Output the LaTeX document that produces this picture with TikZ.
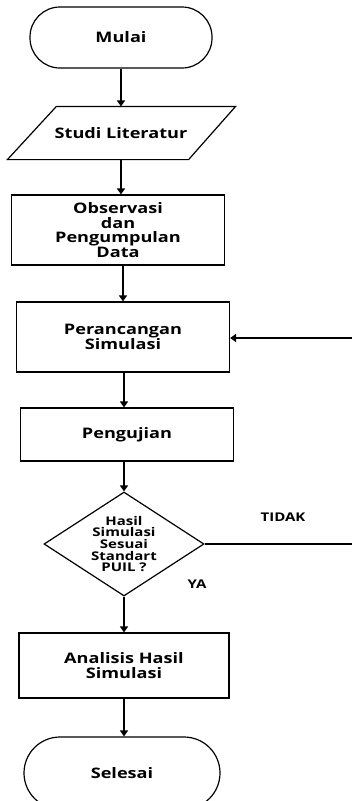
\documentclass[tikz,border=0pt]{standalone}
\usepackage{fontspec}
\setmainfont{Open Sans}[FakeStretch=1.25]
\usetikzlibrary{shapes.geometric,arrows.meta}

\begin{document}
\begin{tikzpicture}[x=1pt,y=-1pt,
  kotak/.style={draw,line width=1.2pt,align=center,font=\fontsize{14.5}{14.5}\selectfont\bfseries},
  ujung/.style={kotak,rounded corners=30pt},
  panah/.style={-{Triangle[length=6pt,width=8pt]},line width=1.6pt},
  kecil/.style={font=\fontsize{12}{11.7}\selectfont\bfseries}]
\useasboundingbox (0,0) rectangle (352,801);
%\draw[gray!30] (0,0) rectangle (352,801);
\node[ujung,minimum width=182,minimum height=61] (mulai) at (121,37.5) {Mulai};
\node[kotak,draw=none,minimum width=180,minimum height=52] (lit) at (121,133) {Studi Literatur};
\draw[line width=1.2pt] ([xshift=26]lit.north west) -- ([xshift=24]lit.north east)
  -- ([xshift=-23]lit.south east) -- ([xshift=-23]lit.south west) -- cycle;
\node[kotak,minimum width=213,minimum height=70] (obs) at (118,230) {Observasi\\dan\\Pengumpulan\\Data};
\node[kotak,minimum width=213,minimum height=70] (ran) at (123,337) {Perancangan\\Simulasi};
\node[kotak,minimum width=213,minimum height=53] (uji) at (127,434.5) {Pengujian};
\node[draw,diamond,line width=1.2pt,aspect=1.54,minimum width=160,minimum height=104,
  inner sep=0pt,align=center,kecil] (cek) at (124,544) {Hasil\\Simulasi\\Sesuai\\Standart\\PUIL ?};
\node[kotak,minimum width=210,minimum height=65] (ana) at (124,665.5) {Analisis Hasil\\Simulasi};
\node[kotak,rounded corners=36pt,minimum width=196,minimum height=72] (selesai) at (122,773) {Selesai};
\node[kecil] (tidak) at (283,517) {TIDAK};
\node[kecil] (ya) at (197,584) {YA};
\coordinate (balik) at (352,338);
\coordinate (balik2) at (352,544);

\draw[panah] (mulai.south) -- (mulai.south |- lit.north);
\draw[panah] (lit.south) -- (lit.south |- obs.north);
\draw[panah] (ran.north |- obs.south) -- (ran.north);
\draw[panah] (cek.north |- ran.south) -- (cek.north |- uji.north);
\draw[panah] (cek.north |- uji.south) -- (cek.north);
\draw[panah] (cek.south) -- (cek.south |- ana.north);
\draw[panah] (ana.south) -- (ana.south |- selesai.north);
\draw[line width=1.2pt] (cek.east) -- (balik2);
\draw[panah] (balik) -- (ran.east |- balik);
\end{tikzpicture}
\end{document}
